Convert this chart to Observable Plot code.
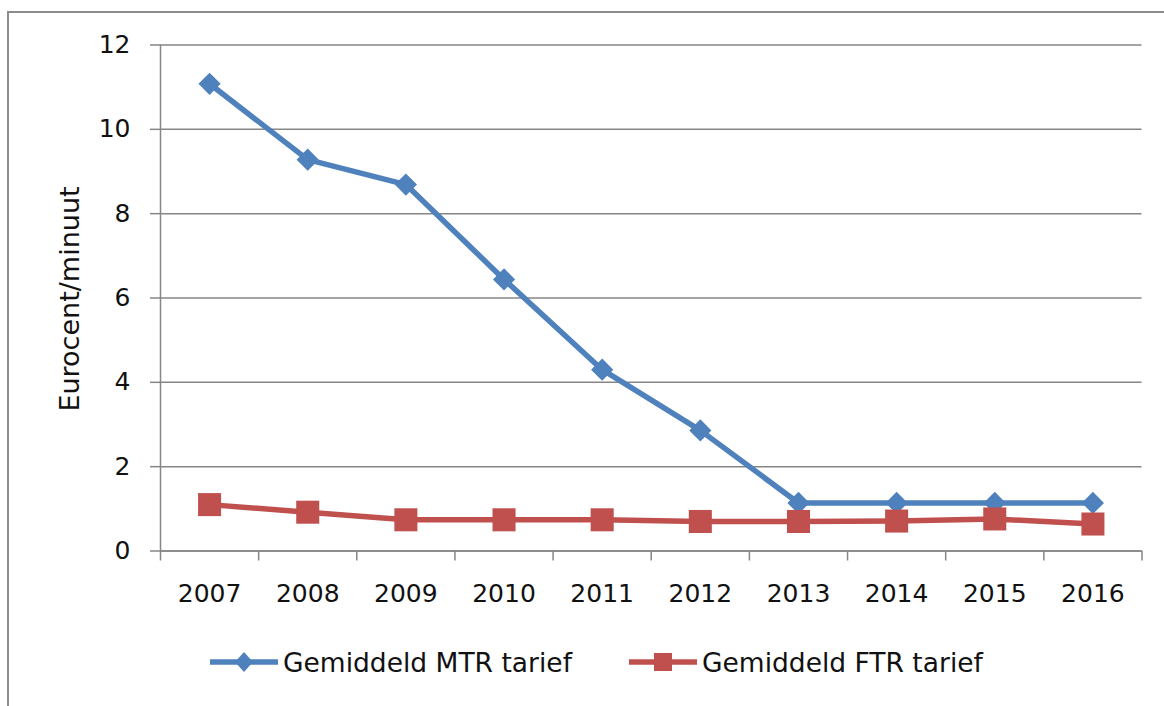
<!DOCTYPE html>
<html>
<head>
<meta charset="utf-8">
<script src="https://cdn.jsdelivr.net/npm/d3@7"></script>
<script src="https://cdn.jsdelivr.net/npm/@observablehq/plot@0.6"></script>
<style>
  html, body { margin: 0; padding: 0; background: #fff; }
  #wrap { position: relative; width: 1164px; height: 706px; overflow: hidden; background: #fff; font-family: "DejaVu Sans", sans-serif; }
  #frame { position: absolute; left: 7px; top: 11px; width: 1300px; height: 800px; border-left: 2px solid #8c8c8c; border-top: 2px solid #8c8c8c; }
  #chart { position: absolute; left: 0; top: 0; }
  .leg { position: absolute; top: 645px; height: 34px; display: flex; align-items: center; font-size: 26.5px; color: #111; white-space: nowrap; }
  .leg svg { margin-right: 5px; }
</style>
</head>
<body>
<div id="wrap">
  <div id="frame"></div>
  <div id="chart"></div>
  <div id="legend"></div>
</div>
<script>
const years = [2007, 2008, 2009, 2010, 2011, 2012, 2013, 2014, 2015, 2016];
const mtr = [11.08, 9.28, 8.69, 6.44, 4.30, 2.86, 1.14, 1.14, 1.14, 1.14];
const ftr = [1.10, 0.92, 0.74, 0.74, 0.74, 0.70, 0.70, 0.71, 0.76, 0.64];
const yTicks = [0, 2, 4, 6, 8, 10, 12];
const seriesNames = ["Gemiddeld MTR tarief", "Gemiddeld FTR tarief"];
const colors = ["#4F81BD", "#C0504D"];
const yLabel = "Eurocent/minuut";

const mtrData = years.map((y, i) => ({year: y, value: mtr[i]}));
const ftrData = years.map((y, i) => ({year: y, value: ftr[i]}));
const bounds = [...years.map(y => y - 0.5), years[years.length - 1] + 0.5];
const grid = "#868686";

const chart = Plot.plot({
  width: 1164,
  height: 615,
  marginLeft: 160,
  marginRight: 22.5,
  marginTop: 44.5,
  marginBottom: 64.5,
  x: {type: "linear", domain: [bounds[0], bounds[bounds.length - 1]]},
  y: {domain: [0, 12]},
  style: {fontFamily: "DejaVu Sans, sans-serif", fontSize: "25px", color: "#111", background: "transparent", overflow: "visible"},
  marks: [
    Plot.gridY(yTicks, {stroke: grid, strokeOpacity: 1, strokeWidth: 1.5}),
    Plot.axisY(yTicks, {tickSize: 10, tickPadding: 20, stroke: grid, strokeWidth: 1.5, tickFormat: d => String(d), label: null, fontSize: 25}),
    Plot.ruleX([bounds[0]], {stroke: grid, strokeWidth: 1.5}),
    Plot.ruleY([0], {stroke: grid, strokeWidth: 1.5}),
    Plot.axisX(bounds, {tickSize: 10, stroke: grid, strokeWidth: 1.5, tickFormat: () => "", label: null}),
    Plot.axisX(years, {tickSize: 0, tickPadding: 33, tickFormat: d => String(d), label: null, fontSize: 25}),
    Plot.text([yLabel], {frameAnchor: "left", textAnchor: "middle", rotate: -90, dx: -90, dy: 1, fontSize: 27, fill: "#111"}),
    Plot.line(mtrData, {x: "year", y: "value", stroke: colors[0], strokeWidth: 5.5}),
    Plot.dot(mtrData, {x: "year", y: "value", symbol: "diamond2", r: 10, fill: colors[0], stroke: "none"}),
    Plot.line(ftrData, {x: "year", y: "value", stroke: colors[1], strokeWidth: 5.5}),
    Plot.dot(ftrData, {x: "year", y: "value", symbol: "square", r: 13, fill: colors[1], stroke: "none"})
  ]
});
document.getElementById("chart").appendChild(chart);

// Legend
const legend = document.getElementById("legend");
const legLefts = [210, 629];
seriesNames.forEach((name, i) => {
  const item = document.createElement("div");
  item.className = "leg";
  item.style.left = legLefts[i] + "px";
  const marker = i === 0
    ? `<path d="M34,7 L43,17 L34,27 L25,17 Z" fill="${colors[0]}"/>`
    : `<rect x="25" y="8" width="18" height="18" fill="${colors[1]}"/>`;
  item.innerHTML = `<svg width="68" height="34"><line x1="0" x2="68" y1="17" y2="17" stroke="${colors[i]}" stroke-width="5.5"/>${marker}</svg><span>${name}</span>`;
  legend.appendChild(item);
});
</script>
</body>
</html>
